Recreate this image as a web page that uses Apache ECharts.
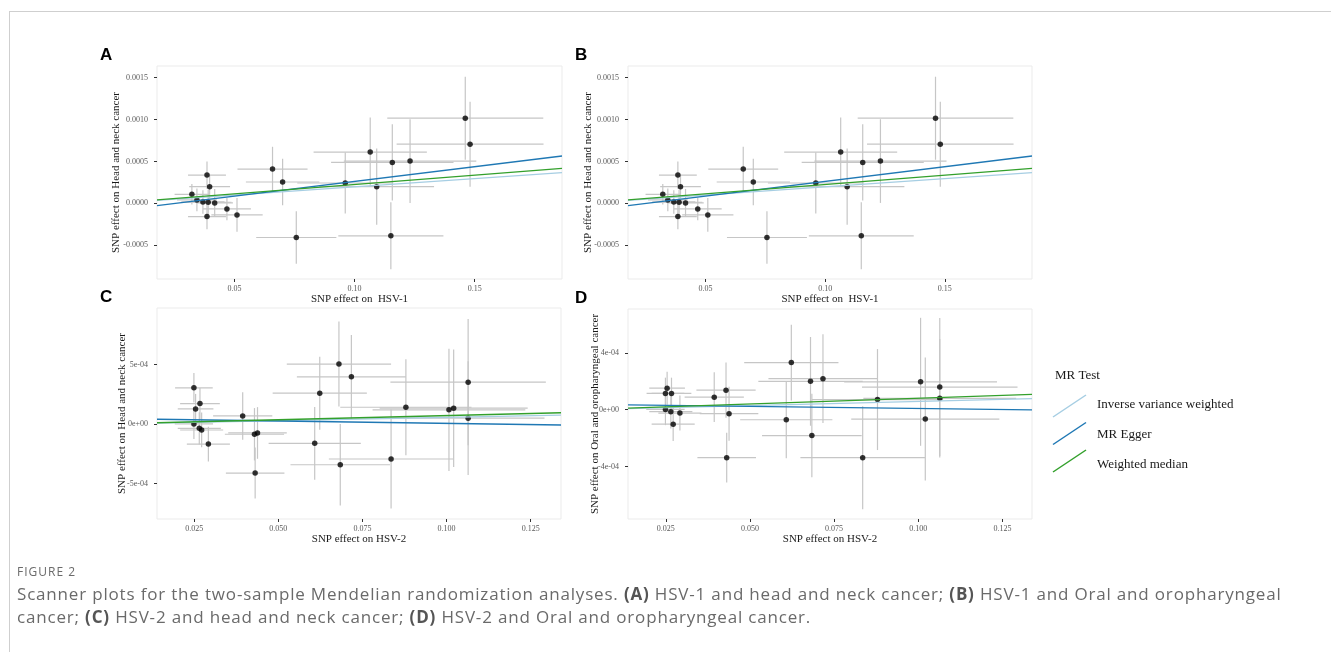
<!DOCTYPE html>
<html>
<head>
<meta charset="utf-8">
<script src="https://cdn.jsdelivr.net/npm/echarts@6/dist/echarts.min.js"></script>
<style>
  body { margin: 0; background: #fff; }
  #wrap { position: relative; width: 1331px; height: 652px; overflow: hidden; }
  #frame { position: absolute; left: 9px; top: 11px; width: 1400px; height: 700px;
           border-top: 1px solid #cfcfcf; border-left: 1px solid #cfcfcf; }
  #chart { position: absolute; left: 0; top: 0; width: 1331px; height: 652px; }
  #caption { position: absolute; left: 17px; top: 562px; width: 1310px;
             font-family: "Open Sans", sans-serif; color: #6a6a6a; }
  #caption .fig { font-size: 12px; letter-spacing: 1px; line-height: 20px; }
  #caption .txt { font-size: 17px; letter-spacing: 0.82px; line-height: 23px; white-space: nowrap; }
  #caption b { color: #555; }
</style>
</head>
<body>
<div id="wrap">
  <div id="frame"></div>
  <div id="chart"></div>
  <div id="caption">
    <div class="fig">FIGURE 2</div>
    <div class="txt">Scanner plots for the two-sample Mendelian randomization analyses. <b>(A)</b> HSV-1 and head and neck cancer; <b>(B)</b> HSV-1 and Oral and oropharyngeal<br>cancer; <b>(C)</b> HSV-2 and head and neck cancer; <b>(D)</b> HSV-2 and Oral and oropharyngeal cancer.</div>
  </div>
</div>
<script>
// HSV-1 instruments (panels A and B share the same points)
var hsv1Beta = [0.0322, 0.0343, 0.0368, 0.0390, 0.0417, 0.0385, 0.0396, 0.0385, 0.0468, 0.0510, 0.0658,
                0.0700, 0.0757, 0.0961, 0.1065, 0.1092, 0.1157, 0.1151, 0.1231, 0.1461, 0.1481];
var hsv1Err = [0.0072, 0.0083, 0.0090, 0.0097, 0.0076, 0.0079, 0.0085, 0.0079, 0.0100, 0.0107, 0.0146,
               0.0153, 0.0167, 0.0200, 0.0236, 0.0239, 0.0255, 0.0219, 0.0276, 0.0325, 0.0306];
var hncBeta1 = [0.000107, 0.000040, 0.000016, 0.000012, 0.000004, 0.000337, 0.000198, -0.000159, -0.000068, -0.000139, 0.000409,
                0.000254, -0.000409, 0.000242, 0.000611, 0.000198, 0.000488, -0.000389, 0.000504, 0.001016, 0.000706];
var hncErr1 = [0.000123, 0.000135, 0.000140, 0.000150, 0.000167, 0.000163, 0.000139, 0.000151, 0.000135, 0.000202, 0.000266,
               0.000278, 0.000313, 0.000365, 0.000413, 0.000456, 0.000456, 0.000400, 0.000500, 0.000496, 0.000508];

// HSV-2 instruments (panels C and D)
var hsv2Beta = [0.0249, 0.0254, 0.0267, 0.0249, 0.0265, 0.0272, 0.0292, 0.0394, 0.0429, 0.0438, 0.0431,
                0.0608, 0.0623, 0.0680, 0.0717, 0.0684, 0.0835, 0.0879, 0.1007, 0.1021, 0.1064, 0.1064];
var hsv2Err = [0.0056, 0.0053, 0.0059, 0.0057, 0.0064, 0.0064, 0.0064, 0.0088, 0.0088, 0.0087, 0.0087,
               0.0137, 0.0140, 0.0155, 0.0162, 0.0148, 0.0185, 0.0195, 0.0227, 0.0220, 0.0231, 0.0227];
var hncBeta2 = [3.03e-4, 1.26e-4, 1.71e-4, 0, -0.37e-4, -0.51e-4, -1.69e-4, 0.67e-4, -0.87e-4, -0.76e-4, -4.13e-4,
                -1.63e-4, 2.58e-4, 5.03e-4, 3.96e-4, -3.43e-4, -2.95e-4, 1.40e-4, 1.18e-4, 1.32e-4, 3.51e-4, 0.48e-4];
var hncErr2 = [1.24e-4, 1.26e-4, 1.30e-4, 1.26e-4, 1.35e-4, 1.46e-4, 1.46e-4, 2.00e-4, 2.20e-4, 2.17e-4, 2.14e-4,
               3.06e-4, 3.06e-4, 3.57e-4, 3.51e-4, 3.43e-4, 4.16e-4, 4.04e-4, 5.14e-4, 4.94e-4, 5.30e-4, 4.78e-4];
var opcBeta2 = [1.14e-4, 1.51e-4, 1.14e-4, 0.02e-4, -0.14e-4, -1.02e-4, -0.24e-4, 0.88e-4, 1.37e-4, -0.28e-4, -3.38e-4,
                -0.71e-4, 3.31e-4, 1.99e-4, 2.18e-4, -1.82e-4, -3.38e-4, 0.71e-4, 1.96e-4, -0.66e-4, 1.59e-4, 0.80e-4];
var opcErr2 = [1.11e-4, 1.16e-4, 1.11e-4, 1.11e-4, 1.18e-4, 1.18e-4, 1.23e-4, 1.75e-4, 1.94e-4, 1.90e-4, 1.75e-4,
               2.70e-4, 2.67e-4, 3.12e-4, 3.12e-4, 2.94e-4, 3.62e-4, 3.55e-4, 4.50e-4, 4.33e-4, 4.85e-4, 4.17e-4];

// MR estimates: [intercept, slope] for IVW, MR Egger, Weighted median
var methods = ['Inverse variance weighted', 'MR Egger', 'Weighted median'];
var methodColors = ['#a6cee3', '#1f78b4', '#33a02c'];
var fitA = [[0, 0.00197], [-0.0000898, 0.00351], [0, 0.00223]];
var fitC = [[0, 5.5e-4], [0.449e-4, -4.04e-4], [0, 7.0e-4]];
var fitD = [[0, 5.8e-4], [0.38e-4, -3.0e-4], [0, 8.0e-4]];

// tick values and labels
var xTicks1 = [0.05, 0.10, 0.15];
var xLabels1 = ['0.05', '0.10', '0.15'];
var yTicks1 = [-0.0005, 0, 0.0005, 0.0010, 0.0015];
var yLabels1 = ['-0.0005', '0.0000', '0.0005', '0.0010', '0.0015'];
var xTicks2 = [0.025, 0.050, 0.075, 0.100, 0.125];
var xLabels2 = ['0.025', '0.050', '0.075', '0.100', '0.125'];
var yTicksC = [-5e-4, 0, 5e-4];
var yLabelsC = ['-5e-04', '0e+00', '5e-04'];
var yTicksD = [-4e-4, 0, 4e-4];
var yLabelsD = ['-4e-04', '0e+00', '4e-04'];

var panels = [
    { tag: 'A', left: 157, top: 66, width: 405, height: 213, xs: hsv1Beta, xe: hsv1Err, ys: hncBeta1, ye: hncErr1,
      xr: [0.01767, 0.1864], yr: [-0.000905, 0.00164], xt: xTicks1, xl: xLabels1, yt: yTicks1, yl: yLabels1,
      fit: fitA, xname: 'SNP effect on  HSV-1', yname: 'SNP effect on Head and neck cancer', ygap: 35 },
    { tag: 'B', left: 628, top: 66, width: 404, height: 213, xs: hsv1Beta, xe: hsv1Err, ys: hncBeta1, ye: hncErr1,
      xr: [0.01767, 0.1864], yr: [-0.000905, 0.00164], xt: xTicks1, xl: xLabels1, yt: yTicks1, yl: yLabels1,
      fit: fitA, xname: 'SNP effect on  HSV-1', yname: 'SNP effect on Head and neck cancer', ygap: 34.7 },
    { tag: 'C', left: 157, top: 308, width: 404, height: 211, xs: hsv2Beta, xe: hsv2Err, ys: hncBeta2, ye: hncErr2,
      xr: [0.01393, 0.134], yr: [-7.99e-4, 9.74e-4], xt: xTicks2, xl: xLabels2, yt: yTicksC, yl: yLabelsC,
      fit: fitC, xname: 'SNP effect on HSV-2', yname: 'SNP effect on Head and neck cancer', ygap: 29.3 },
    { tag: 'D', left: 628, top: 309, width: 404, height: 210, xs: hsv2Beta, xe: hsv2Err, ys: opcBeta2, ye: opcErr2,
      xr: [0.01378, 0.1338], yr: [-7.69e-4, 7.08e-4], xt: xTicks2, xl: xLabels2, yt: yTicksD, yl: yLabelsD,
      fit: fitD, xname: 'SNP effect on HSV-2', yname: 'SNP effect on Oral and oropharyngeal cancer', ygap: 27 }
];

function tickLabel(ticks, labels) {
    return function (v) {
        for (var i = 0; i < ticks.length; i++) {
            if (Math.abs(ticks[i] - v) < 1e-9) return labels[i];
        }
        return '';
    };
}

function errorBar(params, api) {
    var x = api.value(0), y = api.value(1), ex = api.value(2), ey = api.value(3);
    var l = api.coord([x - ex, y]), r = api.coord([x + ex, y]);
    var t = api.coord([x, y + ey]), b = api.coord([x, y - ey]);
    var st = { stroke: '#c6c6c6', lineWidth: 1.2 };
    return {
        type: 'group',
        children: [
            { type: 'line', shape: { x1: t[0], y1: t[1], x2: b[0], y2: b[1] }, style: st },
            { type: 'line', shape: { x1: l[0], y1: l[1], x2: r[0], y2: r[1] }, style: st }
        ]
    };
}

var grids = [], xAxes = [], yAxes = [], series = [], graphics = [];
var serif = '"Liberation Serif", "DejaVu Serif", serif';

panels.forEach(function (p, k) {
    grids.push({ left: p.left, top: p.top, width: p.width, height: p.height,
                 show: true, borderColor: '#ebebeb', borderWidth: 1, backgroundColor: '#fff' });
    xAxes.push({
        type: 'value', gridIndex: k, min: p.xr[0], max: p.xr[1],
        name: p.xname, nameLocation: 'middle', nameGap: 14.5, nameMoveOverlap: false,
        nameTextStyle: { fontFamily: serif, fontSize: 11, color: '#1a1a1a' },
        axisLine: { show: false, onZero: false }, splitLine: { show: false },
        axisTick: { show: true, length: 3, customValues: p.xt, lineStyle: { color: '#333' } },
        axisLabel: { customValues: p.xt, formatter: tickLabel(p.xt, p.xl), margin: 6,
                     fontFamily: serif, fontSize: 8, color: '#5a5a5a' }
    });
    yAxes.push({
        type: 'value', gridIndex: k, min: p.yr[0], max: p.yr[1],
        name: p.yname, nameLocation: 'middle', nameGap: p.ygap, nameMoveOverlap: false,
        nameTextStyle: { fontFamily: serif, fontSize: 11, color: '#1a1a1a' },
        axisLine: { show: false, onZero: false }, splitLine: { show: false },
        axisTick: { show: true, length: 3, customValues: p.yt, lineStyle: { color: '#333' } },
        axisLabel: { customValues: p.yt, formatter: tickLabel(p.yt, p.yl), margin: 9,
                     fontFamily: serif, fontSize: 8, color: '#5a5a5a' }
    });

    var bars = [], pts = [];
    for (var i = 0; i < p.xs.length; i++) {
        bars.push([p.xs[i], p.ys[i], p.xe[i], p.ye[i]]);
        pts.push([p.xs[i], p.ys[i]]);
    }
    series.push({ type: 'custom', xAxisIndex: k, yAxisIndex: k, renderItem: errorBar, data: bars,
                  clip: true, silent: true, z: 1 });
    series.push({ type: 'scatter', xAxisIndex: k, yAxisIndex: k, data: pts, symbolSize: 5.5,
                  itemStyle: { color: '#000' }, silent: true, z: 2 });

    //回归线：截距 + 斜率 * x，横跨整个面板
    p.fit.forEach(function (f, m) {
        series.push({
            type: 'line', name: methods[m], xAxisIndex: k, yAxisIndex: k,
            data: [[p.xr[0], f[0] + f[1] * p.xr[0]], [p.xr[1], f[0] + f[1] * p.xr[1]]],
            symbol: 'none', silent: true, z: 3 + m,
            lineStyle: { color: methodColors[m], width: 1.3 }
        });
    });

    graphics.push({ type: 'text', left: p.tag === 'A' || p.tag === 'C' ? 100 : 575,
                    top: p.top - 19,
                    style: { text: p.tag, font: 'bold 17px "Liberation Sans", Arial, sans-serif', fill: '#000' } });
});

// legend drawn by hand (diagonal key glyphs like ggplot abline)
graphics.push({ type: 'text', left: 1055, top: 369,
                style: { text: 'MR Test', font: '13px ' + serif, fill: '#1a1a1a' } });
methods.forEach(function (name, m) {
    var y0 = 417 + m * 27.5;
    graphics.push({ type: 'line', shape: { x1: 1053, y1: y0, x2: 1086, y2: y0 - 22 },
                    style: { stroke: methodColors[m], lineWidth: 1.5 } });
    graphics.push({ type: 'text', left: 1097, top: 398 + m * 30,
                    style: { text: name, font: '13px ' + serif, fill: '#1a1a1a' } });
});

var chart = echarts.init(document.getElementById('chart'));
chart.setOption({
    animation: false,
    grid: grids,
    xAxis: xAxes,
    yAxis: yAxes,
    series: series,
    graphic: graphics
});
</script>
</body>
</html>
